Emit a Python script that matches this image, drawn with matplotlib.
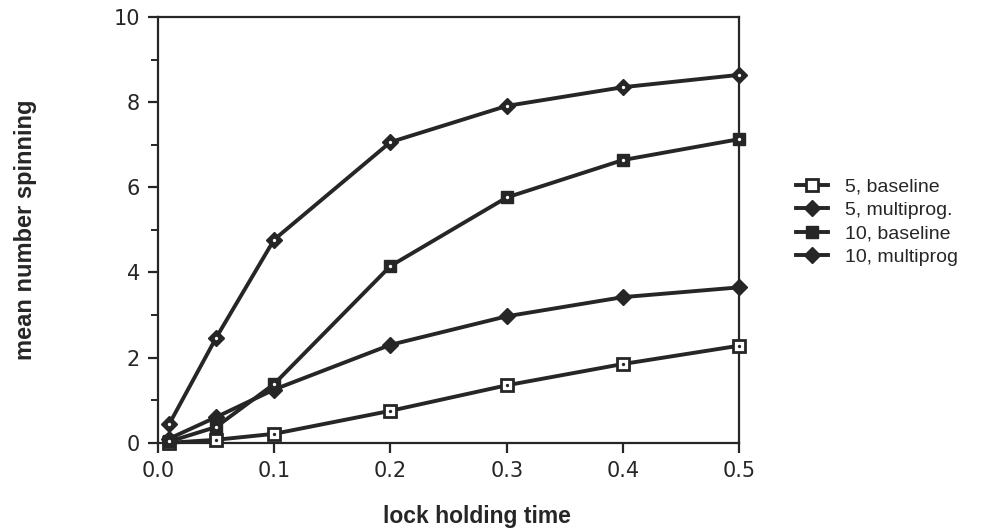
import matplotlib
matplotlib.use("Agg")
import matplotlib.pyplot as plt
from matplotlib.ticker import MultipleLocator
from matplotlib.lines import Line2D

plt.rcParams['font.family'] = ['Liberation Sans', 'DejaVu Sans']

x = [0.01, 0.05, 0.1, 0.2, 0.3, 0.4, 0.5]
b5 = [0.0, 0.07, 0.21, 0.75, 1.35, 1.85, 2.28]
m5 = [0.1, 0.6, 1.25, 2.30, 2.97, 3.42, 3.65]
b10 = [0.03, 0.37, 1.38, 4.15, 5.76, 6.64, 7.13]
m10 = [0.45, 2.46, 4.77, 7.06, 7.91, 8.35, 8.64]
labels = ["5, baseline", "5, multiprog.", "10, baseline", "10, multiprog"]
xticks = [0.0, 0.1, 0.2, 0.3, 0.4, 0.5]
yticks = [0, 2, 4, 6, 8, 10]

ink = '#262626'
fig = plt.figure(figsize=(9.99, 5.29), dpi=100)
ax = fig.add_axes([0.158, 0.163, 0.582, 0.805])

styles = [
    dict(marker='s', ms=8.5, mfc='white', mec=ink, mew=2.0, dot=ink),
    dict(marker='D', ms=8.5, mfc=ink, mec=ink, mew=1.0, dot=None),
    dict(marker='s', ms=9, mfc=ink, mec=ink, mew=1.0, dot='white'),
    dict(marker='D', ms=8, mfc=ink, mec=ink, mew=1.0, dot='white'),
]
series = [b5, m5, b10, m10]
handles = []
for ys, st, lab in zip(series, styles, labels):
    ax.plot(x, ys, color=ink, lw=2.8, marker=st['marker'], ms=st['ms'],
            mfc=st['mfc'], mec=st['mec'], mew=st['mew'], clip_on=False, zorder=3)
    if st['dot']:
        ax.plot(x, ys, ls='none', marker='o', ms=2.4, mfc=st['dot'], mec=st['dot'],
                mew=0, clip_on=False, zorder=4)
    handles.append(Line2D([0], [0], color=ink, lw=2.8, marker=st['marker'], ms=st['ms'],
                          mfc=st['mfc'], mec=st['mec'], mew=st['mew']))

ax.set_xlim(0.0, 0.5)
ax.set_ylim(0, 10)
ax.set_xticks(xticks)
ax.set_xticklabels([f"{v:.1f}" for v in xticks])
ax.set_yticks(yticks)
ax.yaxis.set_minor_locator(MultipleLocator(1))
ax.tick_params(axis='both', which='major', direction='out', length=7, width=1.6,
               labelsize=15, colors=ink, pad=6)
ax.tick_params(axis='y', which='minor', direction='out', length=5, width=1.4, colors=ink)
for lbl in ax.get_xticklabels() + ax.get_yticklabels():
    lbl.set_family('DejaVu Sans')
for s in ax.spines.values():
    s.set_linewidth(1.6)
    s.set_color(ink)

ax.set_xlabel("lock holding time", fontsize=16.5, fontweight='bold', color=ink)
ax.xaxis.set_label_coords(0.549, -0.145)
ax.set_ylabel("mean number spinning", fontsize=17, fontweight='bold', color=ink, labelpad=55)

leg = ax.legend(handles, labels, loc='upper left', bbox_to_anchor=(1.085, 0.64),
                frameon=False, fontsize=14, handlelength=1.6, handletextpad=0.9,
                labelspacing=0.3, borderaxespad=0)
for t in leg.get_texts():
    t.set_color(ink)

fig.savefig("out.png", dpi=100)
